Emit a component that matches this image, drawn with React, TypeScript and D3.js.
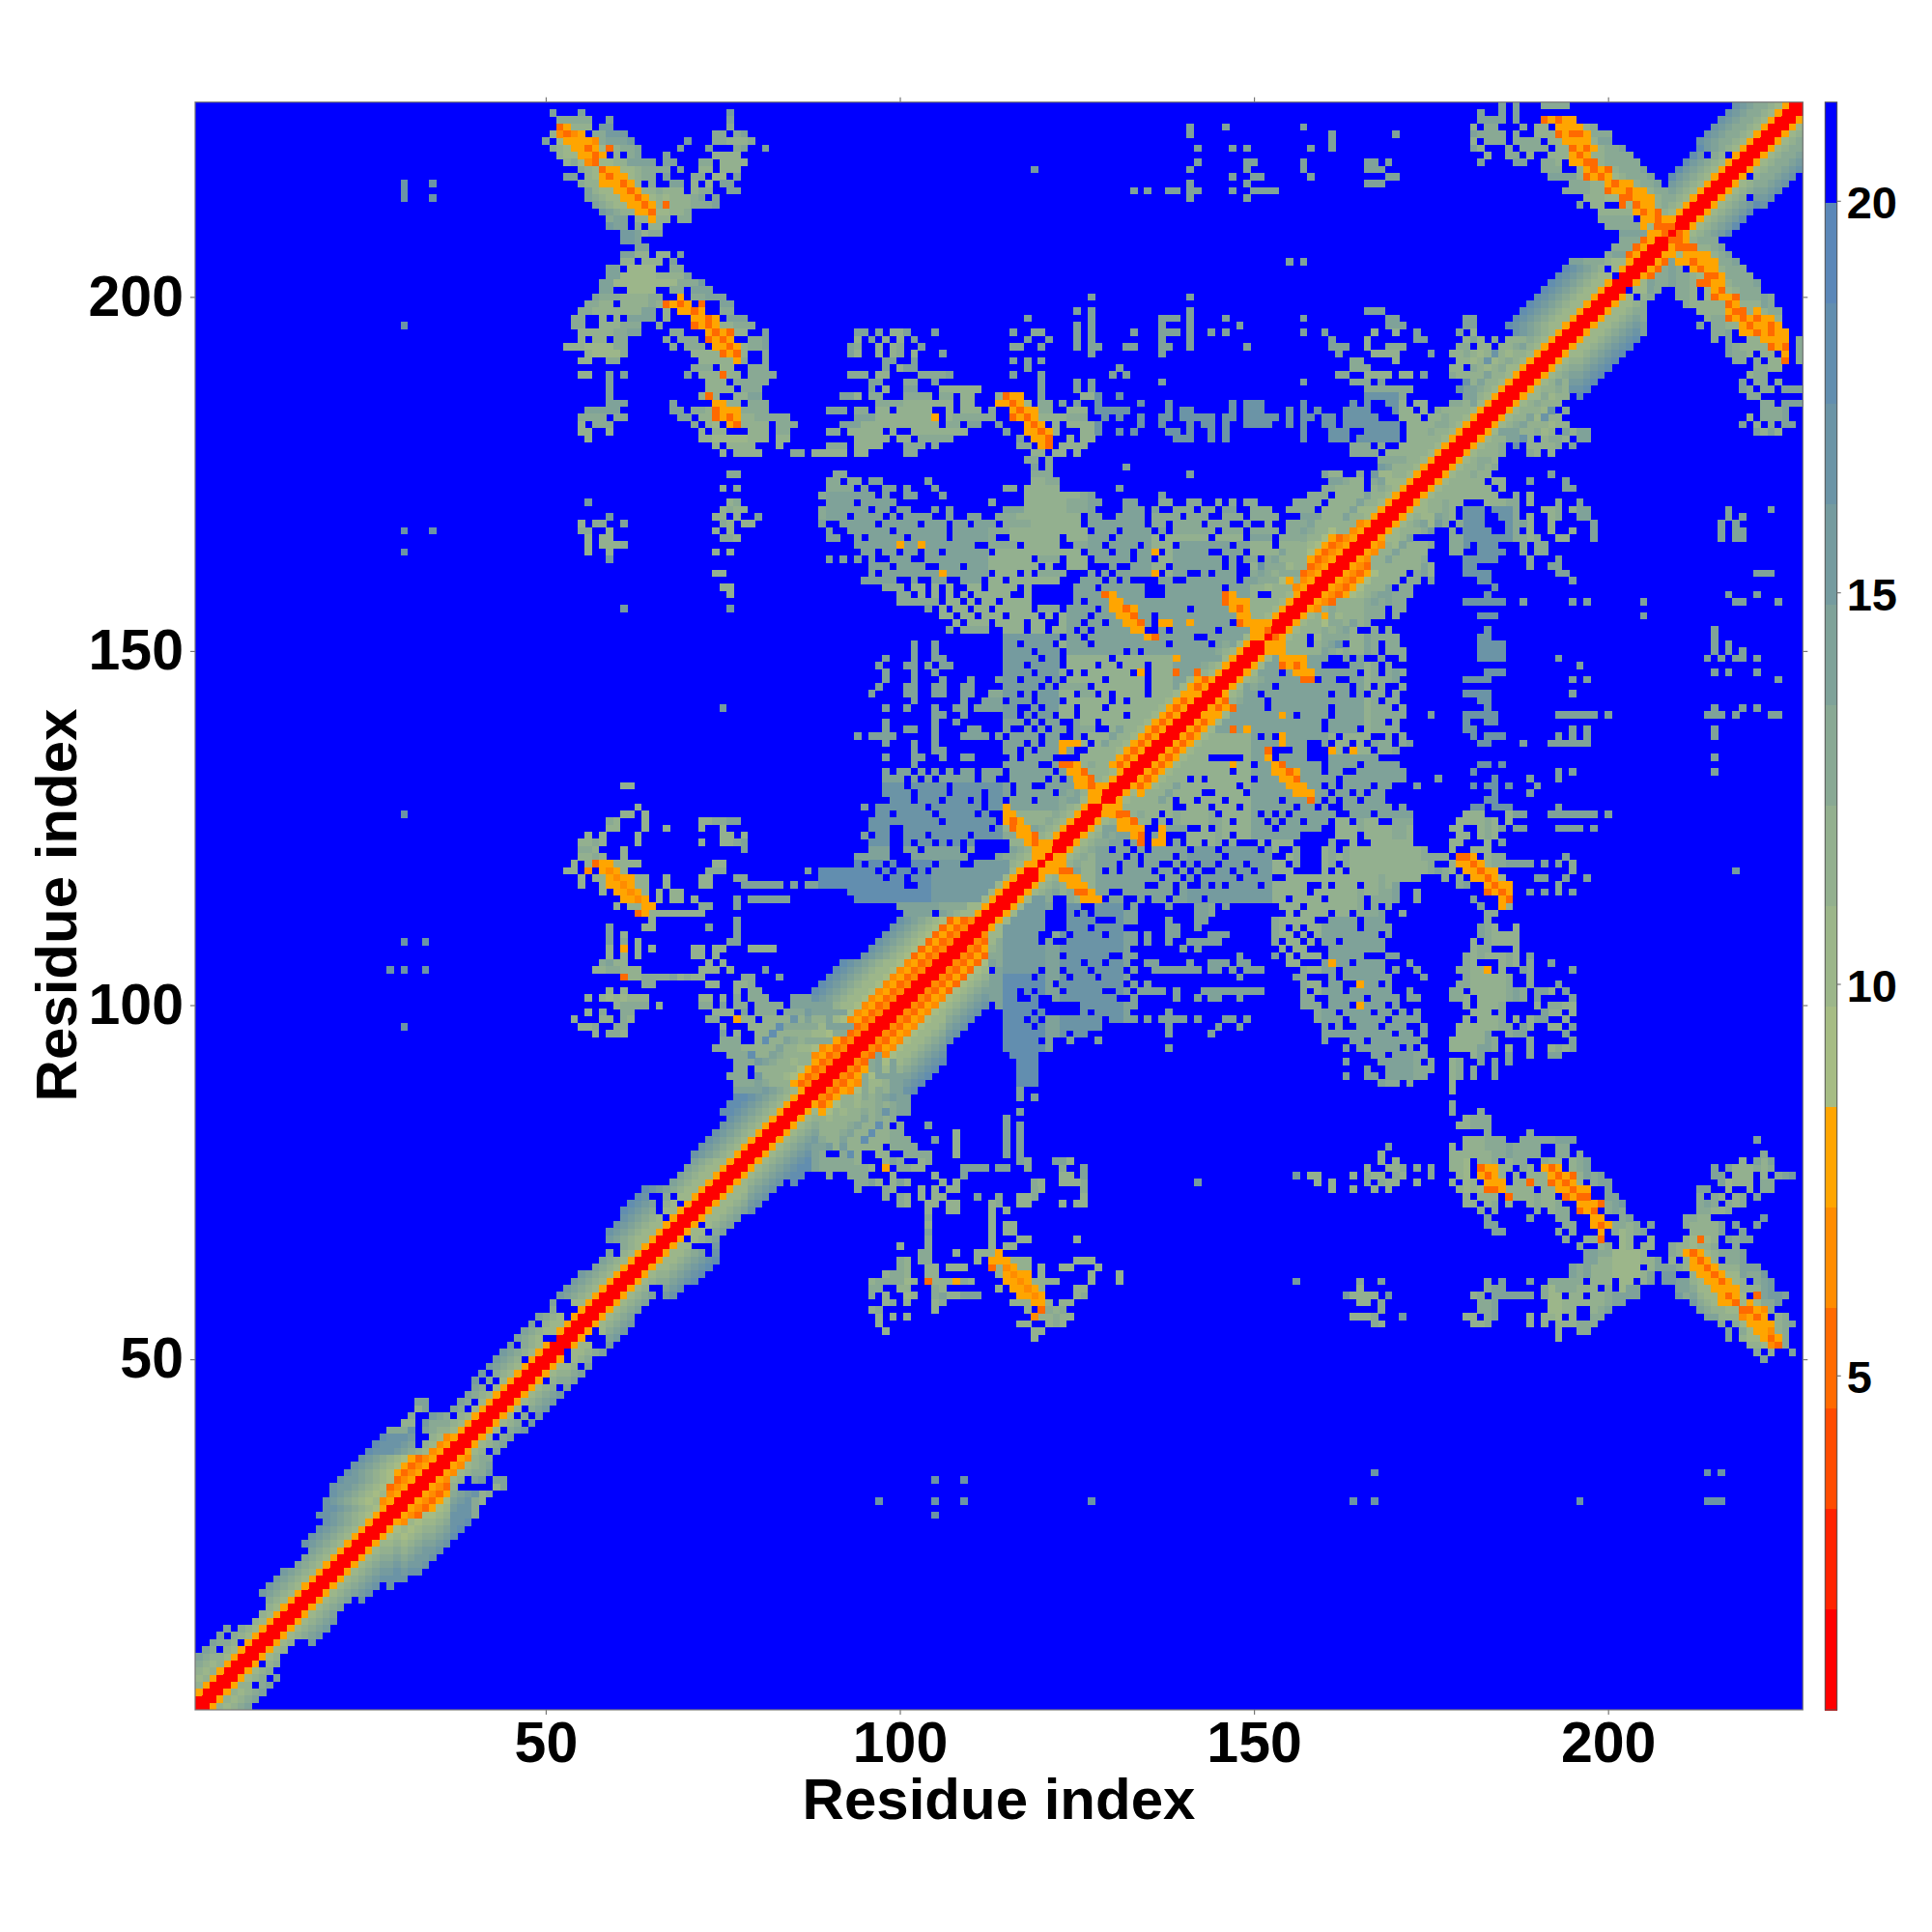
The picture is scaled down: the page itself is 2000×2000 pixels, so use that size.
import React, { useEffect, useRef } from 'react';
import * as d3 from 'd3';

const RESIDUES = 227;
const xTicks = [50, 100, 150, 200];
const yTicks = [50, 100, 150, 200];
const colorbarTicks = [5, 10, 15, 20];
const colorbarDomain = [0.73, 21.26];

// one key per colour level, red (closest) to blue (far)
const levelKeys = '012345abcdefghi.';
const levelColors = [
  '#ff0000', '#ff2400', '#ff4c00', '#ff6a00', '#ff8c00', '#ffa500',
  '#a6bc84', '#9cb68a', '#93b08f', '#89a994', '#7fa299', '#759b9f',
  '#6b94a6', '#628eaf', '#5b87b8', '#0000ff',
];

// [first row, last row, levels at distance 1, 2, 3... from the diagonal]
const bandRuns: [number, number, string][] = [
  [2, 7, '05cbcd'], [8, 9, '05bccde'], [10, 12, '05bcdde'], [13, 14, '05bc'], [15, 16, '05bcd'],
  [17, 20, '05bcdef'], [21, 23, '05bcde'], [24, 27, '05bcdefg'], [28, 29, '05abcdefgg'],
  [30, 31, '054babcdefg'], [32, 33, '0543abcdeffg'], [34, 36, '05435abcdefg'], [37, 39, '054bcdefgggh'],
  [40, 40, '05bccdefgggh'], [41, 42, '05bccdef'], [43, 46, '05bcde'], [47, 52, '05bcdef'], [53, 58, '05bbcde'], [59, 62, '05bcdef'],
  [63, 66, '05bcde'], [67, 70, '05bbcdefg'], [71, 74, '05bbcdefgh'], [75, 78, '05bbcde'], [79, 84, '05bcdefg'],
  [85, 88, '05bcdefghh'], [89, 91, '0435abcdefgh'], [92, 100, '04354abbcdefgh'], [101, 106, '04354abbcdefgh'],
  [107, 112, '04353abcdefg'], [113, 116, '05bbcde'], [117, 121, '05bccde'], [122, 128, '05bcde'],
  [129, 133, '05bccde'], [134, 146, '0535bcde'], [147, 152, '05bcde'], [153, 158, '05bcc'],
  [159, 168, '05435abcdeg'], [169, 174, '05bcde'], [175, 179, '05bccdef'], [180, 186, '05bccd'],
  [187, 195, '05bcdefg'], [196, 205, '05bbcdefgh'], [206, 208, '053bcd'], [209, 212, '05bcde'],
  [213, 216, '05bcdef'], [217, 221, '05bcdefh'], [222, 227, '05bcddefg'],
];

// [row, "first-lastLevel ..."] runs of one level, the gaps stay blue; the other half is the mirror of this one
const spanRows: [number, string][] = [
  [226, '51e 55e 76f'], [225, '52-56d 59e 76e'], [224, '54-56c 58-59f 76d'], [223, '51c 57-58d 59-61f 74-75d 77d 78e'],
  [222, '50e 52b 57c 58d 59-61e 62f 70f 74-75d 76-78c 79d'], [221, '51d 52c 53b 58b 60c 61-62d 63e 69e 73e 77d 78e 81e'],
  [220, '52c 53-54b 58b 60c 62d 63e 67e 74-77c'], [219, '53c 54d 55b 59-61c 62-65e 67-68e 72-73d 75-78c'],
  [218, '55d 56c 57b 61-62b 63c 64d 65-67d 69e 72-73c 75-77c'], [217, '53-54e 56c 57b 62b 63c 64-65d 67e 71-72d 74-75b 77e'],
  [216, '55d 56-57c 63c 65d 68-69e 71c 73c 75e 76e'], [215, '56e 57c 58-59b 64-65c 66d 67-69c 71c 72-73d 76-77e'],
  [214, '56e 57d 58c 59-60b 65b 66c 67b 68-70c 71d 72e 74e'], [213, '57e 58d 59c 60-61b 66c 67d 68-70c 71-73d 74e'],
  [212, '58f 59e 60d 61-62c 66-67b 68-69c 70d'], [211, '59d 60-61e 63-64c 66-67c 69-70d'], [210, '59f 60-61e 63d 65-66c'],
  [209, '61-62f 63e 64c 65-66d'], [208, '61-62f 63e'], [207, '63-64e'], [206, '61-62e 63-64c 66-67c 69e'], [205, '61-62c 64-66c 68e'],
  [204, '59-60e 62-65b 68-69d'], [203, '59-60e 61-65b 66-69c 70e'], [202, '58-59e 60-68b 69-71d 72f'], [201, '58-59e 62-65b 68-69d 71-73e'],
  [200, '57e 58-60d 61-64c 65-66d 71-72d 73-75e'], [199, '56-57d 58-59c 61-64c 65d 66c 75-76e'], [198, '55-56d 57-60c 61-63c 64-65e 67c 75-76d'],
  [197, '54-55d 58c 60c 62-65e 67c 76-78e'], [196, '54-55d 58-60c 61-63d 66d 75-76c 77-79d'], [195, '55-59c 60-61d 62-63e 68-69d 77-78c 81e'],
  [194, '55c 57-58c 60-61d 67d 69-71d 79-80d 81e'], [193, '53-55c 56-59b 60-61d 68d 70-72d 78c 79-80d 81e'], [192, '56c 57-60b 61d 71-74c 78c 81d'],
  [191, '55-56c 59-60d 72-76c 78d 81d'], [190, '71-73d 75-76c 79-81d'], [189, '55-56c 59e 61e 70e 72-74c 76-77c 79-82d'], [188, '59e 73-75c 77-81d'],
  [187, '59e 73-76c 78-80d'], [186, '59e 72c 74c 77-78c 79-80e'], [185, '59-61e 68e 76-77c 79-81d'], [184, '56-60e 68-69e 71-72d 73c 78-81d'],
  [183, '55-58d 60-61d 69-70e 72-73c 78-79c 80-84d 94-96e 97-100c'], [182, '55c 57-59d 71d 73c 74b 78-81c 83-85d 92-94e 95-99c'], [181, '55-56c 59c 72c 74-75c 79-81c 83-84d 90-91d 93-97c'],
  [180, '56c 72-73c 74-78b 79-81c 83-84c 94-98c'], [179, '74c 76-79c 83c 90-92d 94-97c'], [178, '75c 77-80c 85-86d 88-92c 94-95c'],

  // far column dots
  [216, '30g 34g 141e 149e 166-168e'], [215, '30g 133e 135e 138-139e 141-142e 147e 150-153e'], [214, '30g 34g 141e 149e'], [196, '30g 125e 127e 137e 141e 148e 169-171e 180-181e'],
  [167, '30g 34g'], [164, '30g'], [127, '30g'], [109, '30g 33g'], [105, '28g 30g 33g'], [97, '30g'],
  [224, '141e 146e 157e'], [223, '141e 161e 170e 181e'], [222, '161e'], [221, '142e 147e 149e 158e 161e 181e'], [219, '142e 149-150e 157e 166-167e 169e'],
  [218, '119f 141e 149e 157e 166-168e'], [217, '147e 150-151e 158e 169-170e'], [205, '155e 157e'], [200, '127e 141e'], [198, '125e 127e 141e 166-168e'],
  [197, '118e 127e 137-139e 141e 146e 157e 169-170e 180-181e'], [195, '94-95e 97e 99-100c 101e 105e 116e 119-120d 125e 127e 133e 137-139e 141e 144e 146e 157e 160e 167c 170c 173e 179e 181c'],
  [194, '94c 96e 98c 100c 102e 118e 121e 125e 127e 137e 141e 161e 166c 173-174e 180c'], [193, '93e 94d 97c 99c 100d 103e 116-117d 120e 125e 127-128e 132-133e 137-138e 141e 149e 161-163e 166c 169-171d'],
  [192, '93e 94c 97c 99c 100d 102c 106e 127e 137e 162e 167-170c 175e 178e 180c'], [191, '98-99e 102e 116e 118e 120e 164-165d 170c'], [190, '98e 100c 101-102e 118e 131e 164-166d'],
  [189, '93-95d 97-98c 103-106d 107e 116e 120e 130e 132e 162-163d 166-169c 171-172c 174e 178-179d 181c'],
  [188, '96-97e 101-102d 105e 120e 125e 127e 137e 157e 164-166d 168e'], [187, '96e 98c 101-102e 106c 107-111c 120e 125e 127e 166-167d 168-172d 180-181e'],
  [186, '92-93e 94c 96-97d 101-104d 106-107d 109-110c 114-115c 120e 126-128c 131e 166-167d 168-171d 180-181e'],
  [185, '97-100d 101-107c 109-110c 118b 120-121d 123e 125e 128e 134e 138e 147e 149-151e 157e 164e 166d 169-171c 173c 174c 178-181d'],
  [184, '90e 91-92e 94-95d 97-98c 100-104c 107c 109-110c 111c 113d 120-121d 124-126c 128-132d 138d 140-141e 147e 149-151e 155e 157e 159e 163-166c 170-172c 174c 176-179c'],
  [183, '100-104c 107c 108-113d 120-123c 124-126d 129d 131e 134e 137-138e 140-144e 146-147e 149-153e 155e 157-158e 160-161e 163-167c 171-173c 175-180c'],
  [182, '100-105c 107-108d 110-111e 114e 122c 124-128c 134e 137e 141e 143-144e 146e 149-152e 155e 157e 160-161e 163-170c 172-175c'],
  [181, '99c 102-109c 115e 122c 126-128c 131e 133e 138-139e 141e 144e 146e 157e 161-163d 166-170c 172-174c 176-178c'],
  [180, '100-101c 103-107d 117e 124c 126-127c 139-140e 141e 144e 146e 157e 161-163d 165-170c 172-176c 178-179c'],
  [179, '101-103d 105d 117-118d 123-126c 164-166d 168d 171-175c 176-177c'], [178, '101-102d 119-120c 122-123c 125c 164-167d 169-174c 176-179c'],
  [177, '118-119d 121d 168-171d 172-176c'], [176, '119e 121d 132e 170-174c'],

  // centre
  [175, '91-92d 119-121d 141e 160e 161-162c 165d 168-169b'], [174, '90-91d 93-94d 96-97e 104e 119-120c 121-122d 161-162e 163d 164-165c 167d 169-170b'],
  [173, '90-93d 95e 98-99e 101e 105e 115-116d 118-122c 131e 160-161d 162-165c 167c'],
  [172, '89-90d 91-96c 98d 101-102e 106e 118-125c 126-127d 137e 158-160d 162-165c 167-169c'],
  [171, '90-93d 95-99c 113d 118-123c 124-128d 132-133e 137-138d 141-142d 145d 147d 149-150d 156-159d 161-164c 166-168c'],
  [170, '89-95d 97-98e 100-101d 105e 107e 115-117e 118-123c 124-127d 132-134e 136e 139-141d 143-144d 146-147e 150-152d 155-158d 160-163c 165-168b'],
  [169, '89-92d 94-97c 99e 101-104d 107e 110-111e 114-116d 117-125c 127-128d 131-134d 136-139d 141-143d 146-148d 150-153d 157-159e 160-162c 164-167c'],
  [168, '89e 92-96d 98-102c 104-106d 108-109d 111-113e 115-118d 119-125c 127-134d 136-137d 139-142d 144-146d 149e 152d 155-157d 159c 160-164c'],
  [167, '90e 93-98d 100-106c 108-111d 112-115d 116-126c 128-130d 132-135e 137e 139-144d 146-148d 150-153d 155-156d 159-160c 162-163c'],
  [166, '90-91e 94e 96-100c 102-106c 108-113d 116-122c 124-129c 131-136c 138-143c 145-148c 150-152e 154-156d 158-159c'],
  [165, '94d 95-99c 101-102c 104-108c 109-110d 113-116d 118-122c 125-128d 130-133c 135-138c 140-146c 148-152c 154-157c'],
  [164, '95-96d 98-99d 101-102d 104-105c 107-112c 114-125c 127-129c 131-132c 134-135c 138-143c 146-148c 150-153c 155-157c'],
  [163, '90e 92e 94e 96e 99-101d 104-112c 113-118c 120-122d 124-126c 128-132c 134-135c 137-145c 147c 149-150d 152d 154-157c'],
  [162, '96-98d 100-103d 106-108c 110-119c 121c 124-126c 130c 133-137c 139-145c 147c 150c 152-154d 156-157c'],
  [161, '96e 98-99d 100-105c 107-110c 111-112c 114-116c 118c 120-123d 127c 129c 131-135c 138-140c 143c 145-147c 150d 152d 154-156d'],
  [160, '95-99d 102c 105-106c 109-111c 113-114c 116-122c 126-128c 130c 132c 137-138c 141-147c 149c 152-153d 156-157c'],
  [159, '98-100d 102-103c 105c 107c 110-111c 113-116c 118c 125-127c 129-134c 138-145c 147-150c 153-155c'],
  [158, '100-101d 103c 105c 107c 109c 111-115c 118c 125-128c 131-134c 138-145c 148-150c'],
  [157, '100-105d 107-108c 110c 112-113c 115-118c 125c 127-129c 132-145c 149-152c'], [156, '104e 106c 108-109c 111-112c 114-118c 120-122d 124-127c 129c 134-140c 142-146c 149-151c'],
  [155, '106-107c 109-110c 112-114c 116-119c 121c 123-126c 128-130c 134-135c 137-147c 150c'], [154, '108c 110-112c 114-117c 119-120c 123-125c 127-128c 130-131c 135c 139-146c'],
  [153, '107e 109-112d 115-117c 119-120c 122-124c 126c 128-132c 137c 139-144c 146-149c'], [152, '115-122c 124-125c 127-134c 137-141c 144-149c'],
  [151, '102e 105e 115-116d 118-121e 123-126c 128-137c 139-143c 147-149c'], [150, '102e 105e 115-118e 120-122e 124-131c 133c 135-144c 147-148c'],
  [149, '98e 102e 105-106e 115-119e 121-122e 124-129c 131-138c 140-146c'], [148, '97e 101-102e 104e 106-107e 115-117e 119-122d 124-127c 129-130c 132-134c 136-142c'],
  [147, '98e 102e 105e 115-118e 120-123d 125c 127-132c 134c 136-142c'], [146, '98e 102e 106e 110e 114-116e 118-120d 122c 124-128c 130-134c 136-140c'],
  [145, '97e 101-102e 105-106e 109-110e 115-119d 121c 123-126d 128-134c 136-139c'], [144, '96e 101-102e 105-106e 109-110e 113-116d 118c 120-124c 126-127d 129c 131-134c 136-138c'],
  [143, '102e 109e 112-114e 116-118d 120-122d 124-129c 131c 133-137c'], [142, '98e 101e 105e 108-109e 111-116e 119c 121-124c 126-128c 130-136c'],
  [141, '105-106e 109e 115-116e 118c 120-121c 123-124c 126-131c 133-135c'], [140, '98e 105e 108e 115-117e 119c 121-122c 125-127c 129-134c'],
  [139, '98e 101-102e 105e 110-111e 115e 118c 120c 122-123c 125-127d 130c 132-133c'], [138, '94e 96-99e 105e 109-112e 114e 116-119c 121-122c 125c 127-129c 131-132c'],
  [137, '98e 102e 105e 115-117e 119c 121-122c 126c 128c 130-131c'], [136, '102e 105-106e 115-116e 118c 120-122c 124c 127-130c'],
  [135, '98e 102-103e 106e 109-110e 116c 118-121c 126-128c 130c'], [134, '102e 115-119c 122c 126c 128-129c'],
  [133, '98e 100-101e 103e 105e 107e 109-110e 112-114e 116-121c 123c 127-128c'], [132, '98-100e 102e 104e 106-110e 112-113e 116-120c 122c 124c 127c'],
  [131, '98-100e 102-106e 108-110e 111-115d 117-118c 121-123c 125-126c'], [130, '98-101e 103-106e 108-111d 113-115c 117-121c 123c 125-126c'],
  [129, '99-101e 103-105e 107-109d 111c 113-114c 116-118c 120-122c 124-125c'], [128, '95e 97-103e 105-111d 113-114c 116-122c'],
  [127, '97-98e 100-104e 106-110d 112c 116-121c'], [126, '96-105e 107-113d 117-120c'], [125, '96-98e 101-105e 106-112d 114-118c'],
  [124, '95e 97-98e 101-103e 105-109d 111-117d'], [123, '96-98e 101e 103-104e 106e 108e 110d 116-117c'], [122, '96-98e 101-102e 104-108e 110d'],
  [121, '94-98e 102-109e 115-116d'], [120, '74c 94e 96-97e 99e 102-104e 106-108e 111-114d 115-118c'], [119, '73-75d 87e 89-96e 98e 100-101e 103e 105-117c'],
  [118, '72-73c 77-78d 89-90e 91-97e 99e 100e 102-115d'], [117, '72-73c 78-83e 85e 87-88e 89-100e 103-115c'], [116, '93-107e 108-115c'], [115, '77e 79-82e 83-84e 94-99e 100-110d 111c'],
  [114, '72-73d 77e 100-105e 106-109d'], [113, '68-72c 101-104e'], [112, '77e'], [111, '73e 77e'], [110, '77e'], [109, '76-77e'], [108, '71-72c 74-75c 79-82c'],
  [107, '71-72c 74c'], [106, '73c 75c'], [105, '72-74c 76c 81e'], [104, '70d 71-72c 78-79d 83e'], [103, '73-74c 77-78c 79d'], [102, '77c 79-80d'],
  [101, '72-73c 75c 77d 79-81d 85-87e'], [100, '72-73d 75e 77-78d 80-83d 85-90e'], [99, '74-76c 78e 80-82d 84-86d 88-92e'], [98, '73-74d 78-79c 81-84c 86c 88c 90e'],
  [97, '75c 79-82c 84-88d 90-94e'], [96, '75e 77c 80-81c 83-86c 91-94d'], [95, '75-77d 80c 82-83c 87-90d'], [94, '74-77d 78-82c 84-85c'], [93, '76-78d 80-81c 85-87c'],
  [92, '77-79d 83-84c 86-87c'], [91, '77-78d 80-85c'], [90, '76-78d 81-82c'], [89, '77-79d 82-84c'], [88, '77-80e'],

  // column block 54-66, rows 96-131
  [131, '61-62c'], [128, '63c'], [127, '61-62c 64c'], [126, '59d 60c 64c 72-73c 74-75d 76-77e'], [125, '59-60c 64c 67c 72c 75c'], [124, '56c 58c 63c 75-76c 78c'],
  [123, '55-56c 57d 58c 63c 72c 75-76c 77d 78e'], [122, '55-56d 57c 61c 78e'], [121, '55-56c 57d 58c 61c'], [120, '54c 56c 60-63c 75c'], [119, '53-54c 61c'],
  [118, '55c 57-58c 63-64c 67c'], [117, '55c 58c 63c 64c 67c'], [116, '58c 64c 66c 68-69c'], [115, '66c 68-69c 71c'], [114, '60c 62-63c'], [113, '65-67c'], [112, '65c'],
  [111, '59e 64-65c'], [110, '59e 61c'], [109, '59e 61d 63c'], [108, '59c 63c 65c'], [107, '59c 61c 63c'], [106, '58d 59e 60c 61c'], [105, '57-58c 59-60d 61-63c'],
  [104, '62-63c 64-67d 68e 69c'], [103, '64-65d'], [102, '59c 61c'], [101, '56c 58c 59b 60c 61b 62-64c'], [100, '60c 61-64d 66c'], [99, '56c 58d 61-62d'], [98, '54c 58-59c 61d 62c'], [97, '55-56c 57d 60-61d'], [96, '57c 59-60d 61c'],

  // columns 54-62 and 74-80, rows 156-175
  [171, '56f'], [169, '59f'], [168, '55c 57-58d 61e'], [167, '55-56d 59c'], [166, '56c 58-59c'], [165, '56c 58-60c 61d'], [164, '56c 59c'], [163, '59f'], [156, '61f 76f'],
  [175, '76-77d'], [173, '75c 77d'], [171, '76c 77d'], [170, '75c 76d 77-78c'], [169, '74-75c 77c 80e'], [168, '75d 76c 78-79c'], [167, '74c 76c'], [166, '75-76d 77c'], [164, '74c 76c'], [161, '74-75c'], [159, '75-76c'], [158, '76c'], [142, '75f'],

  // clusters at columns 178-190
  [226, '182e 185e 187e'], [225, '182-185e 187e'], [224, '181c 183-184d'], [223, '182-185d 187d'], [222, '181c 183-185d 187d'], [221, '182c 186d 188-189d'], [220, '183c 186-187d'], [219, '182e 187-188e'],
  [194, '181e 182c 184d 186-188c'], [193, '179-180d 182-183c 185-186c 187d 188e 190e'], [192, '178-179c 180d 181c 182b 183c 185c 186b 187-189c 190d'], [191, '179-180c 181b 182c 184b 185c 188-189c'],
  [190, '178-179c 181d 182c 183b 184c 186b 187-189c 190d'], [189, '178d 179-180c 182c 184-187c 188b'], [188, '181c 183c 185b 187c 188b 189c 191d'], [187, '182d 183c 185-188c'], [186, '184-186c'], [185, '180c 181e 183-184c 186c 188c'],
  [184, '176d 177c 179c 181-182c 183d 184c 186c'], [183, '176c 177d 179c 181-184c 185d'], [182, '176-177d 179c 181b 182-184c 186c'], [181, '176-177c 179-180c 181b 182-183c'], [180, '176c 178-179c 180d 181-182c'],
  // hairpin shoulders
  [227, '185e 187e 191-194d'], [224, '188d 190-191c 197c 198d'], [223, '190-192c 198-200d'], [222, '188-190d 192-193c 198c 199-200e'], [221, '189-191d 193-194c 199c 200-201d 202e'],
  [220, '189c 192-194c 198-199c 200-203d'], [219, '191-192d 193c 199c 200-204d'], [218, '191-193d 196c 201c 202-204d 205e'], [217, '192-195e 196c 201b 202c 203-205d 206e'], [216, '195-197d 198-199c 204c 205-206d 207e'],
  [215, '194-197d 198-199c 206c 207-208d'], [214, '197-199c 200-201b 207c 208d'], [213, '196e 198-200c 207c 208d'], [212, '199-203c'], [211, '199-203d'], [210, '200-204d 206b'], [209, '202-205e'], [208, '202-205d'], [207, '202-204d 205c'], [206, '201-203e 204c'], [205, '195-196e 197-199d 200c'],
  // shoulder of the first bump
  [44, '32-33e'], [43, '32c 33e'], [42, '31d'], [41, '30-31c 34-36d'], [40, '28-30d'],
];

// [first row, last row, first column, last column, level]: the duller patches of the cloud
const steelPatches: [number, number, number, number, string][] = [
  [140, 152, 115, 122, 'f'], [160, 172, 127, 135, 'e'], [142, 165, 139, 149, 'e'], [128, 140, 115, 125, 'e'], [123, 131, 96, 114, 'g'],
  [115, 120, 89, 104, 'h'], [115, 120, 105, 115, 'f'], [160, 172, 90, 112, 'e'], [150, 160, 124, 138, 'e'], [180, 186, 128, 170, 'g'],
];

// [row, first column, levels] for the orange contact stripes, drawn over the spans
const stripeRows: [number, number, string][] = [
  [224, 52, '35'], [223, 52, '4345'], [222, 53, '55554'], [221, 54, '5535'], [221, 59, '3'], [220, 55, '5535'], [219, 56, '43bb'], [218, 58, '355'], [217, 58, '5355'], [216, 58, '55535'],
  [215, 60, '5535'], [214, 61, '5535'], [213, 62, '5535'], [212, 63, '553'], [213, 67, '3'], [211, 65, '5'],
  [200, 69, '5'], [199, 67, '3535'], [199, 72, '3'], [198, 69, '5535'], [197, 71, '5535'], [196, 71, '3535'], [195, 73, '5353'], [194, 73, '3535'], [193, 74, '5535'], [192, 75, '353'], [191, 77, '5'], [189, 75, '3'], [186, 73, '3'], [185, 74, '55'], [184, 74, '3555'], [183, 74, '3535'], [182, 76, '53'],
  [120, 57, '355'], [119, 56, '4'], [119, 58, '545'], [118, 59, '5455'], [117, 59, '5545'], [116, 60, '5545'], [115, 61, '5545'], [114, 64, '55'], [113, 63, '35'], [108, 61, '5'], [104, 61, '3'], [98, 77, '5'],
  [186, 115, '355'], [185, 114, '5535'], [184, 116, '5355'], [183, 116, '3535'], [182, 118, '535'], [181, 118, '5535'], [180, 119, '553'], [179, 120, '53'], [183, 105, '5'],
  [158, 129, '35'], [157, 130, '55'], [156, 130, '5535'], [155, 131, '553'], [154, 132, '553'], [153, 133, '55'], [152, 135, '53'], [158, 146, '35'], [157, 146, '3555'], [156, 147, '535'], [155, 148, '55'], [154, 148, '3555'], [153, 150, '553'], [152, 151, '55'],
  [128, 115, '5'], [127, 115, '55'], [126, 115, '535'], [125, 116, '355'], [124, 117, '553'], [123, 118, '535'], [122, 119, '5555'], [121, 119, '55'], [120, 119, '55'],
  [137, 123, '555'], [136, 123, '5'], [134, 123, '335'], [133, 124, '553'], [132, 125, '553'], [131, 125, '5535'], [130, 127, '55'], [129, 128, '53'],
  [165, 100, '5'], [165, 103, '5'], [161, 106, '5'], [164, 136, '5'], [161, 136, '5'], [161, 157, '3'], [154, 137, '55'], [154, 141, '5'], [149, 139, '5'], [147, 134, '5'], [147, 139, '3'], [147, 142, '3'], [144, 141, '5'],
  // hairpin 191-208 against 209-225
  [225, 191, '35355'], [224, 193, '5555'], [223, 193, '35335'], [222, 194, '5555'], [221, 195, '3535'], [220, 195, '535'], [219, 195, '5533'], [218, 197, '5353'], [217, 197, '3535'], [216, 200, '5355'], [215, 200, '355355'],
  [214, 202, '33555'], [213, 202, '3b355'], [212, 204, '5353'], [211, 205, '5535'], [210, 205, '5'], [210, 207, '333'], [209, 206, '553'],
];

// [row, column] blue gaps inside the band around the diagonal
const holeCells: [number, number][] = [
  [47, 43], [46, 42], [44, 40], [43, 39], [42, 37], [50, 47], [58, 52], [58, 53], [57, 52], [57, 53], [57, 54], [56, 53], [53, 50], [53, 51],
  [73, 66], [72, 66], [70, 67], [72, 69], [66, 59], [65, 60], [52, 46], [48, 42], [47, 41], [53, 58], [52, 58], [55, 49], [57, 50], [40, 32], [39, 32], [39, 33], [38, 32],
  [73, 68], [71, 66], [73, 65], [66, 60], [67, 58], [91, 79], [90, 79], [226, 191], [213, 201], [203, 201], [204, 200], [220, 217], [220, 214], [217, 220], [213, 200],
  [12, 6], [10, 7], [15, 10], [9, 4], [11, 5],
];

// plot frame and colorbar position on the page
const PLOT = { left: 202, right: 1866.3, top: 105.7, bottom: 1770 };
const BAR = { left: 1889.3, right: 1901.7 };

// parse the tables into [row, col, level], mirrored over the diagonal
function buildCells() {
  const grid = new Map<string, number>();
  const put = (r: number, c: number, key: string) => {
    const level = levelKeys.indexOf(key);
    if (level < 0 || level === 15 || r < 1 || c < 1 || r > RESIDUES || c > RESIDUES) return;
    grid.set(`${r},${c}`, level);
    grid.set(`${c},${r}`, level);
  };
  spanRows.forEach(([r, runs]) => {
    runs.split(' ').forEach((run) => {
      const m = run.match(/^(\d+)(?:-(\d+))?([a-i0-5])$/);
      if (!m) return;
      const first = +m[1];
      const last = m[2] ? +m[2] : first;
      for (let c = first; c <= last; c++) put(r, c, m[3]);
    });
  });
  steelPatches.forEach(([r1, r2, c1, c2, key]) => {
    for (let r = r1; r <= r2; r++) {
      for (let c = c1; c <= c2; c++) {
        if (grid.has(`${r},${c}`)) put(r, c, key);
      }
    }
  });
  bandRuns.forEach(([from, to, profile]) => {
    for (let r = from; r <= to; r++) {
      profile.split('').forEach((ch, i) => {
        const c = r - i - 1;
        if (i < 3 || !grid.has(`${r},${c}`)) put(r, c, ch);
      });
    }
  });
  stripeRows.forEach(([r, col, chars]) => {
    chars.split('').forEach((ch, i) => put(r, col + i, ch));
  });
  holeCells.forEach(([r, c]) => {
    grid.delete(`${r},${c}`);
    grid.delete(`${c},${r}`);
  });
  for (let r = 1; r <= RESIDUES; r++) put(r, r, '0');
  return Array.from(grid, ([k, level]) => {
    const [r, c] = k.split(',').map(Number);
    return { r, c, level };
  });
}

const App = () => {
  const svgRef = useRef<SVGSVGElement | null>(null);

  useEffect(() => {
    const svg = d3.select(svgRef.current);
    svg.selectAll('*').remove();

    const x = d3.scaleLinear().domain([0.5, RESIDUES + 0.5]).range([PLOT.left, PLOT.right]);
    const y = d3.scaleLinear().domain([0.5, RESIDUES + 0.5]).range([PLOT.bottom, PLOT.top]);
    const barY = d3.scaleLinear().domain(colorbarDomain).range([PLOT.bottom, PLOT.top]);
    const bandY = d3.scaleBand<number>().domain(d3.range(levelColors.length)).range([PLOT.bottom, PLOT.top]);

    const plot = svg.append('g').attr('shape-rendering', 'crispEdges');
    plot
      .append('rect')
      .attr('x', x(0.5))
      .attr('y', y(RESIDUES + 0.5))
      .attr('width', x(RESIDUES + 0.5) - x(0.5))
      .attr('height', y(0.5) - y(RESIDUES + 0.5))
      .attr('fill', levelColors[15]);

    plot
      .selectAll('rect.cell')
      .data(buildCells())
      .enter()
      .append('rect')
      .attr('class', 'cell')
      .attr('x', (d) => x(d.c - 0.5))
      .attr('y', (d) => y(d.r + 0.5))
      .attr('width', (d) => x(d.c + 0.5) - x(d.c - 0.5) + 0.4)
      .attr('height', (d) => y(d.r - 0.5) - y(d.r + 0.5) + 0.4)
      .attr('fill', (d) => levelColors[d.level]);

    const styleAxis = (g: d3.Selection<SVGGElement, unknown, null, undefined>, size: number) => {
      g.select('.domain').remove();
      g.selectAll('.tick line').attr('stroke', '#777').attr('stroke-width', 1.2);
      g.selectAll('.tick text')
        .attr('fill', '#000')
        .style('font-family', '"Liberation Sans", Arial, sans-serif')
        .style('font-weight', 'bold')
        .style('font-size', `${size}px`);
    };

    svg
      .append('g')
      .attr('transform', `translate(0,${PLOT.bottom})`)
      .call(d3.axisBottom(x).tickValues(xTicks).tickSize(5).tickPadding(7).tickFormat(d3.format('d')) as any)
      .call(styleAxis, 59);
    svg
      .append('g')
      .attr('transform', `translate(${PLOT.left},0)`)
      .call(d3.axisLeft(y).tickValues(yTicks).tickSize(5).tickPadding(7).tickFormat(d3.format('d')) as any)
      .call(styleAxis, 59);
    svg
      .append('g')
      .attr('transform', `translate(0,${PLOT.top})`)
      .call(d3.axisTop(x).tickValues(xTicks).tickSize(5).tickFormat(() => '') as any)
      .call(styleAxis, 10);
    svg
      .append('g')
      .attr('transform', `translate(${PLOT.right},0)`)
      .call(d3.axisRight(y).tickValues(yTicks).tickSize(5).tickFormat(() => '') as any)
      .call(styleAxis, 10);

    svg
      .append('rect')
      .attr('x', PLOT.left)
      .attr('y', PLOT.top)
      .attr('width', PLOT.right - PLOT.left)
      .attr('height', PLOT.bottom - PLOT.top)
      .attr('fill', 'none')
      .attr('stroke', '#777')
      .attr('stroke-width', 1.2);

    // colorbar
    svg
      .append('g')
      .attr('shape-rendering', 'crispEdges')
      .selectAll('rect')
      .data(levelColors)
      .enter()
      .append('rect')
      .attr('x', BAR.left)
      .attr('y', (_, i) => bandY(i)!)
      .attr('width', BAR.right - BAR.left)
      .attr('height', bandY.bandwidth() + 0.5)
      .attr('fill', (d) => d);
    svg
      .append('rect')
      .attr('x', BAR.left)
      .attr('y', PLOT.top)
      .attr('width', BAR.right - BAR.left)
      .attr('height', PLOT.bottom - PLOT.top)
      .attr('fill', 'none')
      .attr('stroke', '#555')
      .attr('stroke-width', 1);
    svg
      .append('g')
      .attr('transform', `translate(${BAR.right},0)`)
      .call(d3.axisRight(barY).tickValues(colorbarTicks).tickSize(4).tickPadding(6) as any)
      .call(styleAxis, 47)
      .call((g) => g.selectAll('.tick text').attr('dy', '0.38em'));

    const title = (sel: d3.Selection<SVGTextElement, unknown, null, undefined>) =>
      sel
        .attr('text-anchor', 'middle')
        .attr('fill', '#000')
        .style('font-family', '"Liberation Sans", Arial, sans-serif')
        .style('font-weight', 'bold')
        .style('font-size', '60px')
        .text('Residue index');
    svg.append('text').attr('x', 1034).attr('y', 1883).call(title);
    svg.append('text').attr('transform', 'translate(79,937) rotate(-90)').call(title);
  }, []);

  return <svg ref={svgRef} width={2000} height={2000} style={{ position: 'absolute', left: 0, top: 0 }} />;
};

export default App;
